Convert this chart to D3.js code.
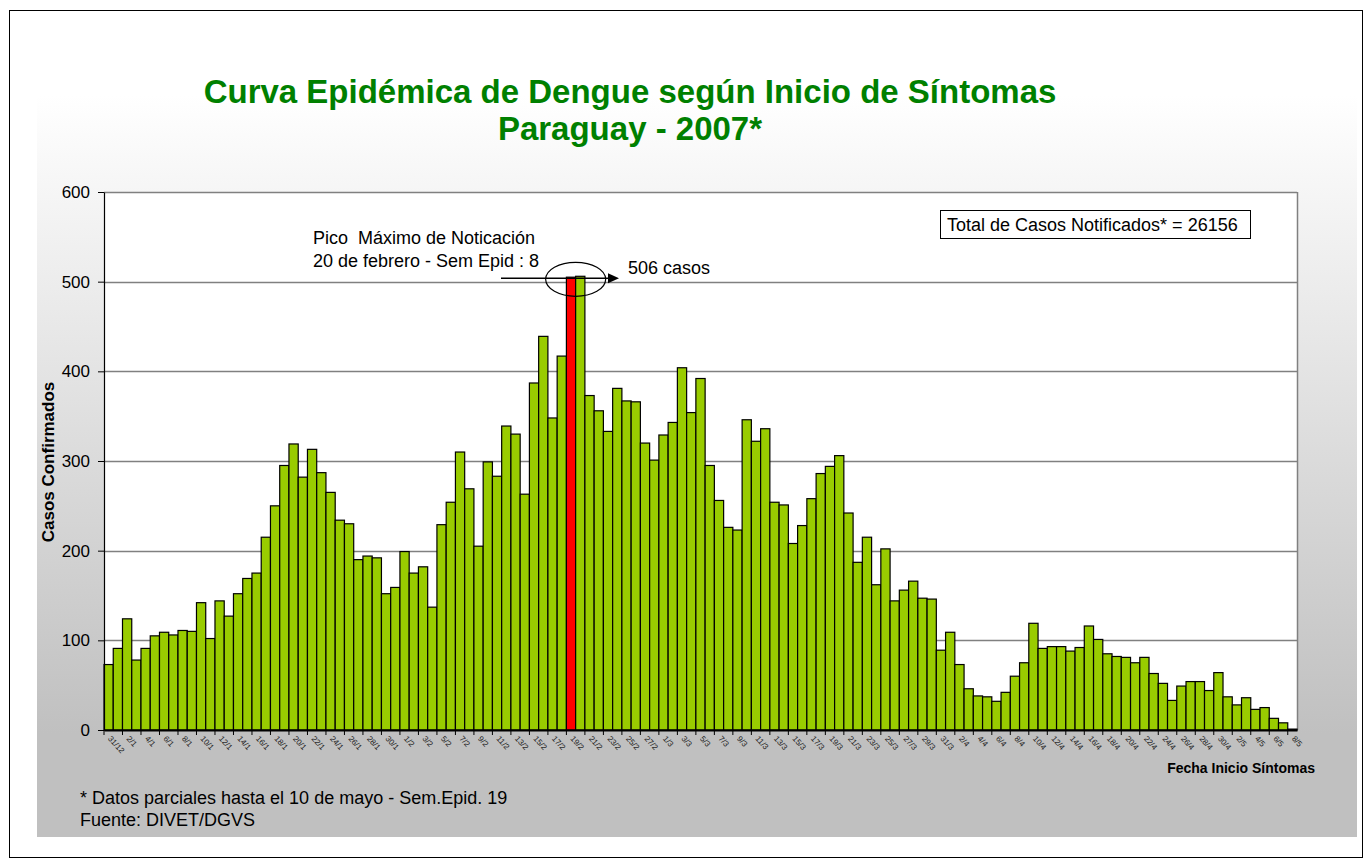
<!DOCTYPE html>
<html>
<head>
<meta charset="utf-8">
<script src="https://cdn.jsdelivr.net/npm/d3@7"></script>
<style>
  html, body { margin: 0; padding: 0; background: #ffffff; }
  svg { display: block; }
  text { font-family: "Liberation Sans", Arial, sans-serif; }
</style>
</head>
<body>
<svg id="chart" width="1366" height="868"></svg>
<script>
// ---------------- DATA ----------------
const categories = [
  "31/12",
  "1/1","2/1","3/1","4/1","5/1","6/1","7/1","8/1","9/1","10/1","11/1","12/1","13/1","14/1","15/1","16/1",
  "17/1","18/1","19/1","20/1","21/1","22/1","23/1","24/1","25/1","26/1","27/1","28/1","29/1","30/1","31/1",
  "1/2","2/2","3/2","4/2","5/2","6/2","7/2","8/2","9/2","10/2","11/2","12/2","13/2","14/2","15/2","16/2",
  "17/2","18/2","19/2","20/2","21/2","22/2","23/2","24/2","25/2","26/2","27/2","28/2",
  "1/3","2/3","3/3","4/3","5/3","6/3","7/3","8/3","9/3","10/3","11/3","12/3","13/3","14/3","15/3","16/3",
  "17/3","18/3","19/3","20/3","21/3","22/3","23/3","24/3","25/3","26/3","27/3","28/3","29/3","30/3","31/3",
  "1/4","2/4","3/4","4/4","5/4","6/4","7/4","8/4","9/4","10/4","11/4","12/4","13/4","14/4","15/4","16/4",
  "17/4","18/4","19/4","20/4","21/4","22/4","23/4","24/4","25/4","26/4","27/4","28/4","29/4","30/4",
  "1/5","2/5","3/5","4/5","5/5","6/5","7/5","8/5"
];

const casos = [
  73, 91, 124, 78, 91, 105, 109, 106, 111, 110,
  142, 102, 144, 127, 152, 169, 175, 215, 250, 295,
  319, 282, 313, 287, 265, 234, 230, 190, 194, 192,
  152, 159, 199, 175, 182, 137, 229, 254, 310, 269,
  205, 299, 283, 339, 330, 263, 387, 439, 348, 417,
  505, 506, 373, 356, 333, 381, 367, 366, 320, 301,
  329, 343, 404, 354, 392, 295, 256, 226, 223, 346,
  322, 336, 254, 251, 208, 228, 258, 286, 294, 306,
  242, 187, 215, 162, 202, 144, 156, 166, 147, 146,
  89, 109, 73, 46, 38, 37, 32, 42, 60, 75,
  119, 91, 93, 93, 88, 92, 116, 101, 85, 82,
  81, 75, 81, 63, 52, 33, 49, 54, 54, 44,
  64, 37, 28, 36, 23, 25, 13, 8, 1
];

const highlightCategory = "19/2";
const yTicks = [0, 100, 200, 300, 400, 500, 600];

const titleLines = ["Curva Epidémica de Dengue según Inicio de Síntomas", "Paraguay - 2007*"];
const yAxisTitle = "Casos Confirmados";
const xAxisTitle = "Fecha Inicio Síntomas";
const totalBoxText = "Total de Casos Notificados* = 26156";
const peakLabelLines = ["Pico  Máximo de Noticación", "20 de febrero - Sem Epid : 8"];
const peakValueText = "506 casos";
const footnotes = ["* Datos parciales hasta el 10 de mayo - Sem.Epid. 19", "Fuente: DIVET/DGVS"];

// ---------------- LAYOUT ----------------
const svg = d3.select("#chart");
const plot = { left: 104, right: 1297, top: 192, bottom: 730 };

const defs = svg.append("defs");
const grad = defs.append("linearGradient").attr("id", "bgGrad")
  .attr("x1", 0).attr("y1", 0).attr("x2", 0).attr("y2", 1);
grad.append("stop").attr("offset", "0%").attr("stop-color", "#ffffff");
grad.append("stop").attr("offset", "86%").attr("stop-color", "#c0c0c0");
grad.append("stop").attr("offset", "100%").attr("stop-color", "#c0c0c0");

// chart area background
svg.append("rect").attr("x", 37).attr("y", 95).attr("width", 1320).attr("height", 742)
  .attr("fill", "url(#bgGrad)");

// outer frame
svg.append("rect").attr("x", 9.5).attr("y", 10.5).attr("width", 1353).attr("height", 847)
  .attr("fill", "none").attr("stroke", "#000").attr("stroke-width", 1);

// title
svg.append("g").selectAll("text").data(titleLines).join("text")
  .attr("x", 630).attr("y", (d, i) => 103 + i * 37)
  .attr("text-anchor", "middle")
  .attr("font-size", 33).attr("font-weight", "bold").attr("fill", "#008000")
  .text(d => d);

// scales
const x = d3.scaleBand().domain(categories).range([plot.left, plot.right]).paddingInner(0).paddingOuter(0);
const y = d3.scaleLinear().domain([0, 600]).range([plot.bottom, plot.top]);

// plot background
svg.append("rect").attr("x", plot.left).attr("y", plot.top)
  .attr("width", plot.right - plot.left).attr("height", plot.bottom - plot.top)
  .attr("fill", "#ffffff");

// gridlines
svg.append("g").selectAll("line").data(yTicks.filter(t => t > 0)).join("line")
  .attr("x1", plot.left).attr("x2", plot.right)
  .attr("y1", d => Math.round(y(d)) + 0.5).attr("y2", d => Math.round(y(d)) + 0.5)
  .attr("stroke", "#808080").attr("stroke-width", 1.5);

// right border
svg.append("line").attr("x1", plot.right + 0.5).attr("x2", plot.right + 0.5)
  .attr("y1", plot.top).attr("y2", plot.bottom)
  .attr("stroke", "#808080").attr("stroke-width", 1.5);

// bars
svg.append("g").selectAll("rect").data(categories).join("rect")
  .attr("x", d => x(d))
  .attr("width", x.bandwidth())
  .attr("y", (d, i) => y(casos[i]))
  .attr("height", (d, i) => y(0) - y(casos[i]))
  .attr("fill", d => d === highlightCategory ? "#ff0000" : "#99cc00")
  .attr("stroke", "#000").attr("stroke-width", 1.2);

// y axis
const yAxis = svg.append("g").attr("transform", `translate(${plot.left},0)`)
  .call(d3.axisLeft(y).tickValues(yTicks).tickSize(6).tickPadding(8).tickSizeOuter(0));
yAxis.select(".domain").attr("stroke", "#000").attr("stroke-width", 1.2);
yAxis.selectAll(".tick line").attr("stroke", "#000");
yAxis.selectAll(".tick text").attr("font-size", 17).attr("fill", "#000")
  .attr("font-family", "Liberation Sans, Arial, sans-serif");

// x axis
const labelled = categories.filter((d, i) => i % 2 === 0);
const xAxis = svg.append("g").attr("transform", `translate(0,${plot.bottom})`)
  .call(d3.axisBottom(x).tickValues(labelled).tickSize(5).tickSizeOuter(0));
xAxis.select(".domain").attr("stroke", "#000").attr("stroke-width", 2);
xAxis.selectAll(".tick line").attr("stroke", "#000")
  .attr("x1", -x.bandwidth() / 2).attr("x2", -x.bandwidth() / 2);
xAxis.selectAll(".tick text")
  .attr("font-size", 8).attr("fill", "#222")
  .attr("font-family", "Liberation Sans, Arial, sans-serif")
  .attr("text-anchor", "start")
  .attr("y", 0).attr("dy", 0)
  .attr("transform", "translate(-1,9) rotate(48)");

// axis titles
svg.append("text")
  .attr("transform", "translate(54,462) rotate(-90)")
  .attr("text-anchor", "middle")
  .attr("font-size", 17).attr("font-weight", "bold").attr("fill", "#000")
  .text(yAxisTitle);

svg.append("text")
  .attr("x", 1315).attr("y", 773)
  .attr("text-anchor", "end")
  .attr("font-size", 14).attr("font-weight", "bold").attr("fill", "#000")
  .text(xAxisTitle);

// total box
svg.append("rect").attr("x", 940.5).attr("y", 210.5).attr("width", 310).attr("height", 28)
  .attr("fill", "#ffffff").attr("stroke", "#000").attr("stroke-width", 1);
svg.append("text").attr("x", 947).attr("y", 231)
  .attr("font-size", 18).attr("fill", "#000").text(totalBoxText);

// peak annotation
svg.append("g").selectAll("text").data(peakLabelLines).join("text")
  .attr("x", 313).attr("y", (d, i) => 244 + i * 23)
  .attr("font-size", 18).attr("fill", "#000")
  .attr("xml:space", "preserve")
  .style("white-space", "pre")
  .text(d => d);

const peakIdx = casos.indexOf(d3.max(casos));
const peakY = y(casos[peakIdx]);
svg.append("line")
  .attr("x1", 501).attr("x2", 610)
  .attr("y1", peakY + 2).attr("y2", peakY + 2)
  .attr("stroke", "#000").attr("stroke-width", 1.5);
svg.append("path")
  .attr("d", `M608,${peakY - 3} L619,${peakY + 2} L608,${peakY + 7} Z`)
  .attr("fill", "#000");
svg.append("ellipse")
  .attr("cx", x(highlightCategory) + x.bandwidth()).attr("cy", peakY + 3)
  .attr("rx", 30).attr("ry", 17)
  .attr("fill", "none").attr("stroke", "#000").attr("stroke-width", 1.2);
svg.append("text").attr("x", 628).attr("y", 274)
  .attr("font-size", 18).attr("fill", "#000").text(peakValueText);

// footnotes
svg.append("g").selectAll("text").data(footnotes).join("text")
  .attr("x", 80).attr("y", (d, i) => 804 + i * 22)
  .attr("font-size", 18).attr("fill", "#000")
  .text(d => d);
</script>
</body>
</html>
